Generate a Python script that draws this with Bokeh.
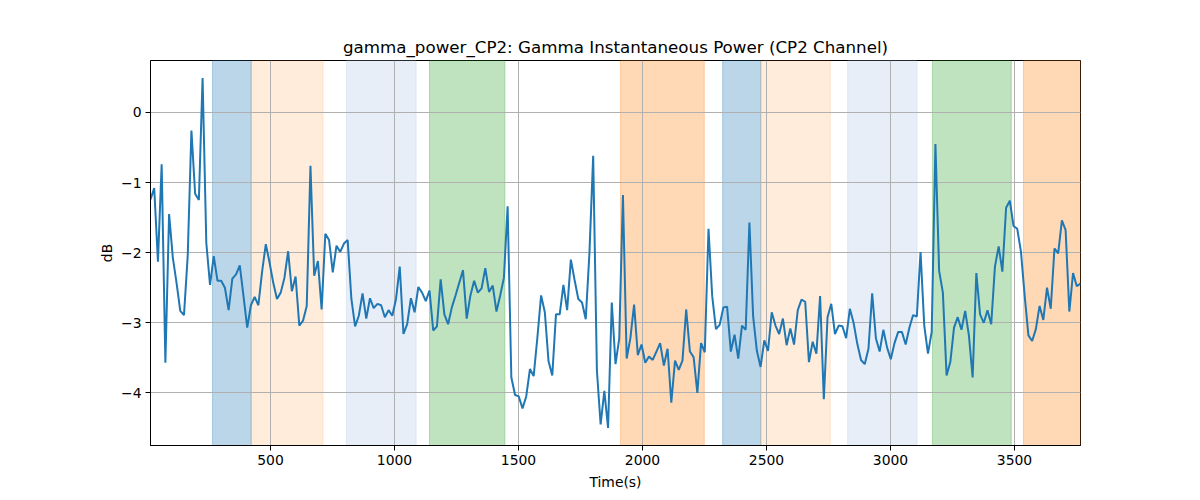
import numpy as np
from bokeh.plotting import figure
from bokeh.models import Range1d, FixedTicker, BoxAnnotation
from bokeh.embed import file_html
from bokeh.resources import INLINE

# ---- data ----
title_text = "gamma_power_CP2: Gamma Instantaneous Power (CP2 Channel)"
x_label = "Time(s)"
y_label = "dB"

time_s = np.arange(16, 3767, 15)  # sample times (s)
power_db = [
    -1.24, -1.08, -2.13, -0.74, -3.57, -1.45, -2.07, -2.43, -2.83, -2.89,
    -2.05, -0.26, -1.16, -1.25, 0.49, -1.86, -2.46, -2.05, -2.40, -2.40,
    -2.50, -2.82, -2.37, -2.31, -2.18, -2.62, -3.07, -2.75, -2.63, -2.75,
    -2.27, -1.88, -2.14, -2.43, -2.66, -2.57, -2.36, -1.98, -2.55, -2.34,
    -3.04, -2.97, -2.76, -0.76, -2.33, -2.12, -2.81, -1.73, -1.82, -2.28,
    -1.90, -1.99, -1.87, -1.82, -2.66, -3.05, -2.90, -2.58, -2.94, -2.65,
    -2.79, -2.73, -2.75, -2.92, -2.82, -2.90, -2.66, -2.20, -3.16, -3.02,
    -2.65, -2.85, -2.49, -2.57, -2.69, -2.54, -3.11, -3.05, -2.38, -2.88,
    -3.02, -2.78, -2.61, -2.43, -2.25, -2.94, -2.61, -2.40, -2.57, -2.51,
    -2.22, -2.56, -2.47, -2.84, -2.61, -2.36, -1.34, -3.78, -4.03, -4.05,
    -4.22, -4.05, -3.66, -3.76, -3.21, -2.61, -2.85, -3.55, -3.75, -2.88,
    -2.88, -2.46, -2.82, -2.10, -2.39, -2.66, -2.71, -2.95, -2.00, -0.62,
    -3.68, -4.45, -3.97, -4.50, -2.71, -3.59, -3.23, -1.18, -3.51, -3.22,
    -2.74, -3.46, -3.31, -3.57, -3.48, -3.53, -3.41, -3.29, -3.61, -3.37,
    -4.14, -3.54, -3.67, -3.54, -2.81, -3.41, -3.49, -4.00, -3.29, -3.42,
    -1.66, -2.62, -3.09, -3.03, -2.78, -2.77, -3.41, -3.17, -3.51, -3.04,
    -3.10, -1.57, -2.91, -3.40, -3.63, -3.25, -3.40, -2.85, -3.04, -3.16,
    -2.94, -3.32, -3.08, -3.31, -2.82, -2.67, -2.70, -3.56, -3.27, -3.44,
    -2.62, -4.09, -2.92, -2.73, -3.16, -3.04, -3.05, -3.22, -2.80, -3.00,
    -3.30, -3.53, -3.59, -3.37, -2.58, -3.22, -3.41, -3.10, -3.35, -3.52,
    -3.29, -3.13, -3.13, -3.31, -3.07, -2.89, -2.91, -1.99, -3.04, -3.44,
    -3.13, -0.45, -2.26, -2.57, -3.75, -3.56, -3.07, -2.92, -3.10, -2.83,
    -3.18, -3.78, -2.29, -2.88, -3.00, -2.82, -3.02, -2.20, -1.91, -2.27,
    -1.36, -1.26, -1.62, -1.66, -1.99, -2.62, -3.18, -3.26, -3.09, -2.76,
    -2.96, -2.50, -2.80, -1.94, -2.01, -1.54, -1.68, -2.84, -2.29, -2.48,
    -2.44,
]

span_start = [266, 422, 806, 1141, 1911, 2323, 2477, 2827, 3169, 3536]
span_end = [422, 712, 1087, 1445, 2249, 2477, 2757, 3107, 3487, 3766]
span_color = ["#1f77b4", "#ff7f0e", "#aec7e8", "#2ca02c", "#ff7f0e",
              "#1f77b4", "#ff7f0e", "#aec7e8", "#2ca02c", "#ff7f0e"]
span_alpha = [0.3, 0.15, 0.3, 0.3, 0.3, 0.3, 0.15, 0.3, 0.3, 0.3]

x_ticks = [500, 1000, 1500, 2000, 2500, 3000, 3500]
x_tick_labels = ["500", "1000", "1500", "2000", "2500", "3000", "3500"]
y_ticks = [-4, -3, -2, -1, 0]
y_tick_labels = ["\u22124", "\u22123", "\u22122", "\u22121", "0"]

n = min(len(time_s), len(power_db))
t = time_s[:n]
v = np.array(power_db[:n])

vmin, vmax = v.min(), v.max()
pad = 0.05 * (vmax - vmin)

FONT = "DejaVu Sans"

p = figure(
    frame_width=930, frame_height=385,
    min_border_left=150, min_border_right=112,
    min_border_top=60, min_border_bottom=47,
    output_backend="svg", toolbar_location=None,
    x_range=Range1d(t[0], t[-1]),
    y_range=Range1d(vmin - pad, vmax + pad),
    background_fill_color="white", border_fill_color="white",
)

for s, e, c, a in zip(span_start, span_end, span_color, span_alpha):
    box = BoxAnnotation(left=s, right=e, fill_color=c, fill_alpha=a,
                        line_color=c, line_alpha=a, line_width=1, level="image")
    p.add_layout(box)

p.line(t, v, line_color="#1f77b4", line_width=2)

p.title.text = title_text
p.title.align = "center"
p.title.text_font = FONT
p.title.text_font_size = "16.7px"
p.title.text_font_style = "normal"
p.title.text_color = "black"
p.title.standoff = 7

p.xaxis.axis_label = x_label
p.yaxis.axis_label = y_label
for ax in (p.xaxis, p.yaxis):
    ax.axis_label_text_font = FONT
    ax.axis_label_text_font_size = "13.9px"
    ax.axis_label_text_font_style = "normal"
    ax.axis_label_text_color = "black"
    ax.major_label_text_font = FONT
    ax.major_label_text_font_size = "13.9px"
    ax.major_label_text_color = "black"
    ax.axis_line_color = "black"
    ax.axis_line_width = 1
    ax.major_tick_line_color = "black"
    ax.major_tick_out = 5
    ax.major_tick_in = 0
    ax.minor_tick_line_color = None
    ax.major_label_standoff = 4
p.xaxis.axis_label_standoff = 6
p.yaxis.axis_label_standoff = 3

p.xaxis.ticker = FixedTicker(ticks=x_ticks)
p.yaxis.ticker = FixedTicker(ticks=y_ticks)
p.xaxis.major_label_overrides = {k: s for k, s in zip(x_ticks, x_tick_labels)}
p.yaxis.major_label_overrides = {k: s for k, s in zip(y_ticks, y_tick_labels)}

p.grid.grid_line_color = "#b0b0b0"
p.grid.grid_line_width = 1
p.outline_line_color = "black"
p.outline_line_width = 1
p.outline_line_alpha = 1

open("out.html", "w").write(file_html(p, INLINE))
